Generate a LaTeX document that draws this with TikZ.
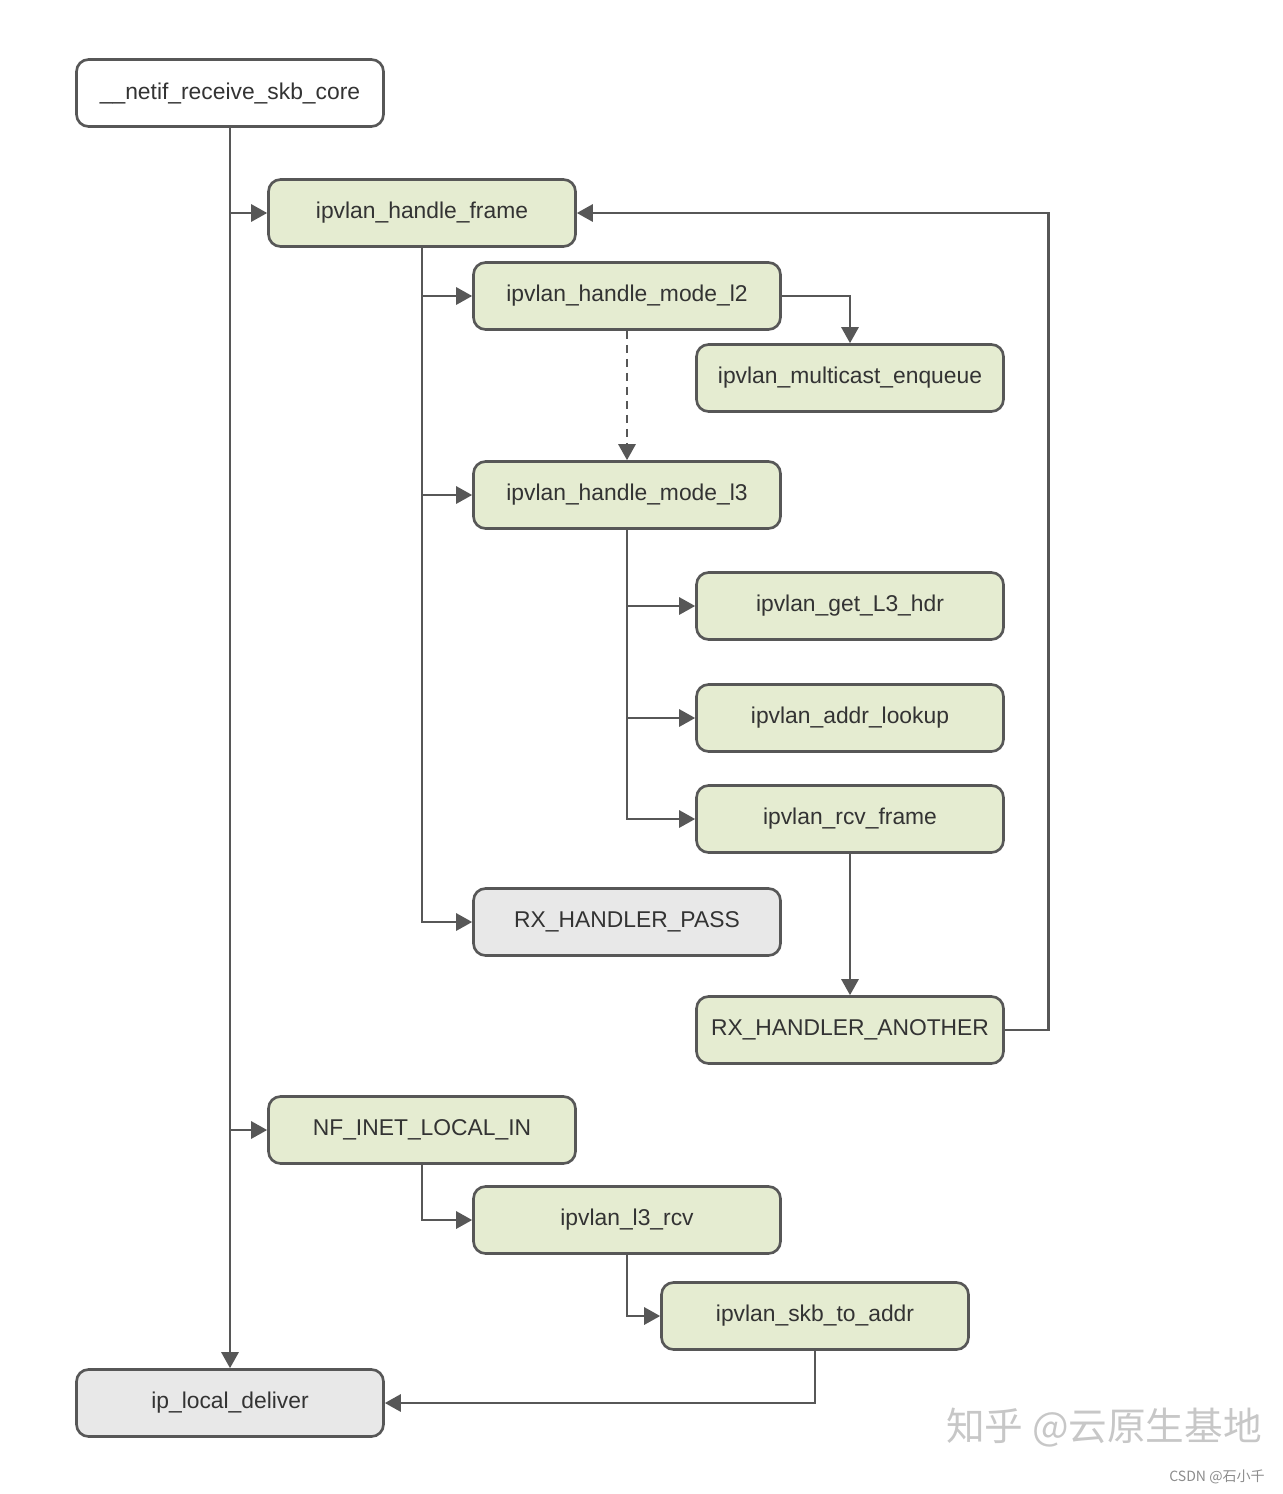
\documentclass[tikz,border=0pt]{standalone}
\usepackage{fontspec}
\setmainfont{Liberation Sans}
\newfontfamily\cjk{Noto Sans CJK SC}
\usetikzlibrary{arrows.meta}
\definecolor{boxgreen}{HTML}{E5ECD1}
\definecolor{boxgray}{HTML}{E8E8E8}
\definecolor{linegray}{HTML}{575757}
\definecolor{textgray}{HTML}{333333}
\tikzset{
  fn/.style={draw=linegray, line width=1.5pt, rounded corners=0.24cm,
    minimum width=6.14cm, minimum height=1.34cm, inner sep=0pt,
    fill=boxgreen, text=textgray, font=\fontsize{13}{15}\selectfont},
  plainfn/.style={fn, fill=white},
  retfn/.style={fn, fill=boxgray},
  link/.style={draw=linegray, line width=1.6pt,
    -{Triangle[length=0.32cm,width=0.34cm]}},
}
\begin{document}
\begin{tikzpicture}[x=0.02cm, y=-0.02cm]
  \useasboundingbox (0,0) rectangle (1282,1494);
  % functions
  \node[plainfn] (netif) at (230,93) {\_\_netif\_receive\_skb\_core};
  \node[fn] (frame) at (422,213) {ipvlan\_handle\_frame};
  \node[fn] (model2) at (627,296) {ipvlan\_handle\_mode\_l2};
  \node[fn] (mcast) at (850,378) {ipvlan\_multicast\_enqueue};
  \node[fn] (model3) at (627,495) {ipvlan\_handle\_mode\_l3};
  \node[fn] (gethdr) at (850,606) {ipvlan\_get\_L3\_hdr};
  \node[fn] (lookup) at (850,718) {ipvlan\_addr\_lookup};
  \node[fn] (rcvframe) at (850,819) {ipvlan\_rcv\_frame};
  \node[retfn] (pass) at (627,922) {RX\_HANDLER\_PASS};
  \node[fn] (another) at (850,1030) {RX\_HANDLER\_ANOTHER};
  \node[fn] (localin) at (422,1130) {NF\_INET\_LOCAL\_IN};
  \node[fn] (lrcv) at (627,1220) {ipvlan\_l3\_rcv};
  \node[fn] (skbaddr) at (815,1316) {ipvlan\_skb\_to\_addr};
  \node[retfn] (deliver) at (230,1403) {ip\_local\_deliver};
  % trunk
  \draw[link] (netif) -- (deliver);
  \draw[link] (netif.south |- frame.west) -- (frame.west);
  \draw[link] (netif.south |- localin.west) -- (localin.west);
  % rx handler
  \draw[link] (frame.south) |- (pass.west);
  \draw[link] (frame.south |- model2.west) -- (model2.west);
  \draw[link] (frame.south |- model3.west) -- (model3.west);
  \draw[link] (model2.east) -| (mcast.north);
  \draw[link, dash pattern=on 0.16cm off 0.12cm] (model2) -- (model3);
  % l3 mode
  \draw[link] (model3.south) |- (rcvframe.west);
  \draw[link] (model3.south |- gethdr.west) -- (gethdr.west);
  \draw[link] (model3.south |- lookup.west) -- (lookup.west);
  \draw[link] (rcvframe) -- (another);
  \draw[link] (another.east) -- ++(44,0) |- (frame.east);
  % local in
  \draw[link] (localin.south) |- (lrcv.west);
  \draw[link] (lrcv.south) |- (skbaddr.west);
  \draw[link] (skbaddr.south) |- (deliver.east);
  % watermarks
  \node[text=black!22, font=\cjk\fontsize{22}{24}\selectfont] (zhihu) at (1104,1428) {知乎\ @云原生基地};
  \node[text=black!45, font=\cjk\fontsize{8}{9}\selectfont] (csdn) at (1217,1477) {CSDN @石小千};
\end{tikzpicture}
\end{document}
